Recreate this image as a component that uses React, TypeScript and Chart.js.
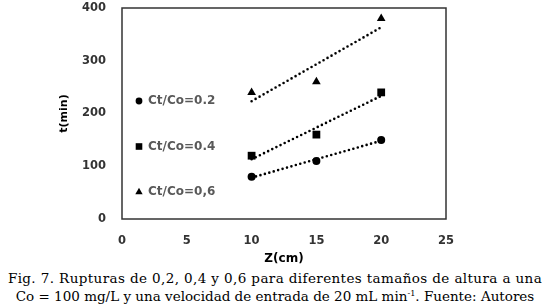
import React, { useEffect, useRef } from 'react';
import { Chart, registerables } from 'chart.js';
import { drawPoint } from 'chart.js/helpers';

Chart.register(...registerables);

const zValues = [10, 15, 20];
const series02 = [80, 110, 150];
const series04 = [120, 160, 240];
const series06 = [240, 260, 380];
const seriesLabels = ['Ct/Co=0.2', 'Ct/Co=0.4', 'Ct/Co=0,6'];
const seriesMarkers = ['circle', 'rect', 'triangle'];
const markerRadius = [4, 5.5, 5];
const xTicks = [0, 5, 10, 15, 20, 25];
const yTicks = [0, 100, 200, 300, 400];

function linearTrend(xs: number[], ys: number[]) {
  const n = xs.length;
  const mx = xs.reduce((a, b) => a + b, 0) / n;
  const my = ys.reduce((a, b) => a + b, 0) / n;
  let sxy = 0, sxx = 0;
  for (let i = 0; i < n; i++) {
    sxy += (xs[i] - mx) * (ys[i] - my);
    sxx += (xs[i] - mx) * (xs[i] - mx);
  }
  const slope = sxy / sxx;
  const icpt = my - slope * mx;
  const x0 = Math.min(...xs), x1 = Math.max(...xs);
  return [{ x: x0, y: icpt + slope * x0 }, { x: x1, y: icpt + slope * x1 }];
}

const FONT = 'DejaVu Sans';

const boxAndLegend = {
  id: 'boxAndLegend',
  beforeDatasetsDraw(chart: any) {
    const { ctx, chartArea } = chart;
    ctx.save();
    ctx.strokeStyle = '#333';
    ctx.lineWidth = 1.5;
    ctx.strokeRect(chartArea.left, chartArea.top, chartArea.right - chartArea.left, chartArea.bottom - chartArea.top);
    ctx.restore();
  },
  afterDatasetsDraw(chart: any) {
    const { ctx, chartArea } = chart;
    ctx.save();
    seriesLabels.forEach((label, i) => {
      const y = chartArea.top + 93 + i * 45.5;
      const mx = chartArea.left + 17;
      ctx.fillStyle = '#000';
      drawPoint(ctx, { pointStyle: seriesMarkers[i] as any, rotation: 0, radius: markerRadius[i] * 0.85, borderWidth: 0 } as any, mx, y);
      ctx.fillStyle = '#595959';
      ctx.font = `bold 12px "${FONT}"`;
      ctx.textBaseline = 'middle';
      ctx.textAlign = 'left';
      ctx.fillText(label, chartArea.left + 26, y);
    });
    ctx.restore();
  },
};

export default function App() {
  const ref = useRef<HTMLCanvasElement>(null);
  useEffect(() => {
    document.body.style.margin = '0';
    const allSeries = [series02, series04, series06];
    const pointSets = allSeries.map((s, i) => ({
      label: seriesLabels[i],
      data: zValues.map((z, j) => ({ x: z, y: s[j] })),
      pointStyle: seriesMarkers[i],
      pointRadius: markerRadius[i],
      backgroundColor: '#000',
      borderColor: '#000',
      borderWidth: 0,
      showLine: false,
      order: 1,
    }));
    const trendSets = allSeries.map((s, i) => ({
      label: 'trend ' + seriesLabels[i],
      data: linearTrend(zValues, s),
      showLine: true,
      pointRadius: 0,
      borderColor: '#000',
      borderWidth: 2.6,
      borderDash: [0, 4.6],
      borderCapStyle: 'round',
      fill: false,
      order: 2,
    }));
    const chart = new Chart(ref.current!, {
      type: 'scatter',
      data: { datasets: [...trendSets, ...pointSets] as any },
      plugins: [boxAndLegend],
      options: {
        animation: false,
        responsive: false,
        layout: { padding: { left: 0, top: 8, right: 104, bottom: 0 } },
        plugins: { legend: { display: false }, tooltip: { enabled: false } },
        scales: {
          x: {
            type: 'linear',
            min: 0,
            max: 25,
            afterBuildTicks: (scale: any) => { scale.ticks = xTicks.map((v) => ({ value: v })); },
            afterFit: (scale: any) => { scale.height = 49; },
            grid: { display: false, drawTicks: true, tickLength: 15 },
            border: { display: false },
            ticks: { font: { family: FONT, weight: 'bold', size: 11.5 }, color: '#333', padding: 0, maxRotation: 0 },
            title: { display: true, text: 'Z(cm)', color: '#000', font: { family: FONT, weight: 'bold', size: 12 }, padding: { top: 0, bottom: 1.5 } },
          },
          y: {
            type: 'linear',
            min: 0,
            max: 400,
            afterBuildTicks: (scale: any) => { scale.ticks = yTicks.map((v) => ({ value: v })); },
            afterFit: (scale: any) => { scale.width = 122; },
            grid: { display: false, drawTicks: true, tickLength: 16 },
            border: { display: false },
            ticks: { font: { family: FONT, weight: 'bold', size: 11.5 }, color: '#333', padding: 0 },
            title: { display: true, text: 't(min)', color: '#000', font: { family: FONT, weight: 'bold', size: 11 }, padding: { top: 58, bottom: 0 } },
          },
        },
      } as any,
    });
    return () => chart.destroy();
  }, []);
  return (
    <div style={{ position: 'absolute', left: 0, top: 0, width: 550, height: 305, background: '#fff', overflow: 'hidden' }}>
      <canvas ref={ref} width={550} height={268} style={{ display: 'block', width: 550, height: 268 }} />
      <div
        style={{
          position: 'absolute',
          left: 0,
          top: 269,
          width: 550,
          textAlign: 'center',
          fontFamily: '"DejaVu Serif", serif',
          fontSize: 13.5,
          lineHeight: '18px',
          color: '#000',
          whiteSpace: 'nowrap',
        }}
      >
        <div style={{ letterSpacing: '0.39px' }}>Fig. 7. Rupturas de 0,2, 0,4 y 0,6 para diferentes tamaños de altura a una</div>
        <div>
          Co = 100 mg/L y una velocidad de entrada de 20 mL min<sup style={{ fontSize: '0.6em', lineHeight: 0 }}>-1</sup>. Fuente: Autores
        </div>
      </div>
    </div>
  );
}
